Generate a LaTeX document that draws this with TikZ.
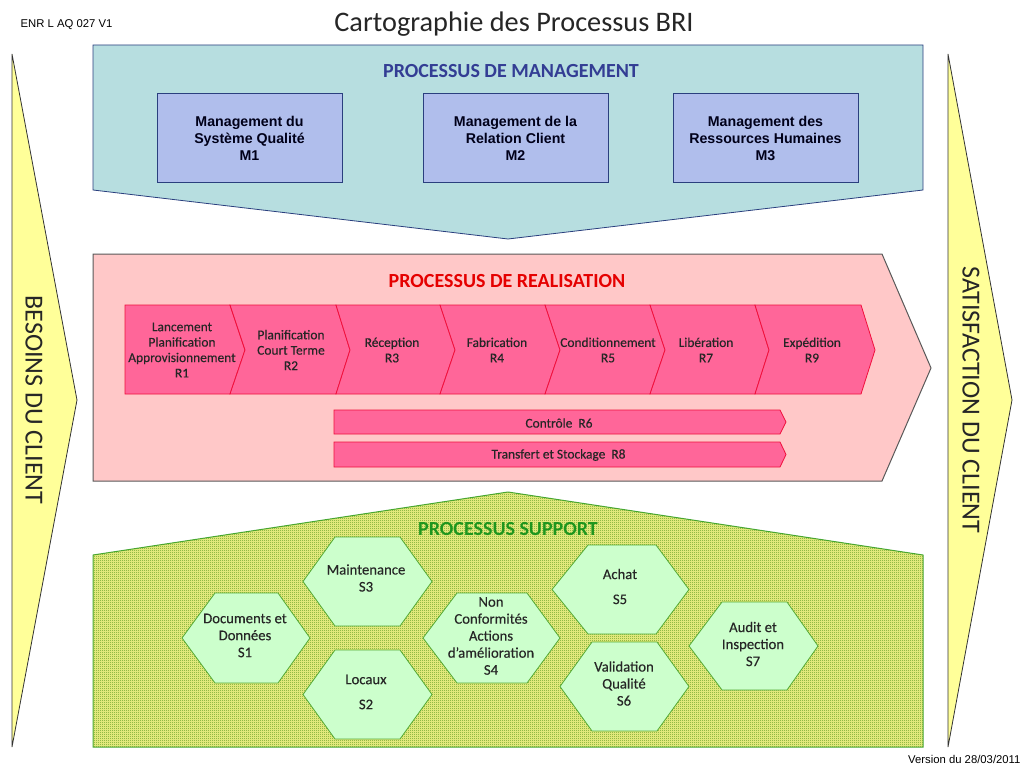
\documentclass[tikz,border=0pt]{standalone}
\usepackage{fontspec}
\setmainfont{Carlito}
\newfontfamily\arialfont{Liberation Sans}
\newfontfamily\semifont[FakeBold=0.25]{Carlito}
\usepackage{xcolor}
\usepackage{tikz}
\usetikzlibrary{patterns}
\definecolor{mgmtfill}{HTML}{B7DEE0}
\definecolor{mgmtline}{HTML}{2A3F7E}
\definecolor{mgmttext}{HTML}{333D94}
\definecolor{boxfill}{HTML}{B0BEEC}
\definecolor{realfill}{HTML}{FFC8C8}
\definecolor{chevfill}{HTML}{FF6699}
\definecolor{chevline}{HTML}{F0103C}
\definecolor{hexfill}{HTML}{CCFFCC}
\definecolor{hexline}{HTML}{55AA33}
\definecolor{suppfill}{HTML}{F4F488}
\definecolor{suppline}{HTML}{44A833}
\definecolor{supptext}{HTML}{1E961E}
\definecolor{suppdots}{HTML}{5F9C22}
\definecolor{sidefill}{HTML}{FFFF99}
\pgfdeclarepatternformonly{finecheck}{\pgfqpoint{0pt}{0pt}}{\pgfqpoint{2pt}{2pt}}{\pgfqpoint{2pt}{2pt}}{
  \pgfpathrectangle{\pgfqpoint{0pt}{0pt}}{\pgfqpoint{1pt}{1pt}}
  \pgfpathrectangle{\pgfqpoint{1pt}{1pt}}{\pgfqpoint{1pt}{1pt}}
  \pgfusepath{fill}
}
\tikzset{
  mgmtshape/.style={draw=mgmtline, fill=mgmtfill, line width=0.8pt},
  realshape/.style={draw=black!65, fill=realfill, line width=1pt},
  suppshape/.style={draw=suppline, line width=1pt, fill=suppfill, postaction={pattern=finecheck, pattern color=suppdots}},
  sideshape/.style={draw=black!80, fill=sidefill, line width=0.8pt},
  chevshape/.style={draw=chevline, fill=chevfill, line width=0.8pt},
  hexshape/.style={draw=hexline, fill=hexfill, line width=0.8pt},
  mbox/.style={draw=mgmtline, fill=boxfill, line width=0.8pt, minimum width=185pt, minimum height=89pt, inner sep=0pt, align=center, text=black!90!blue, font=\arialfont\bfseries\fontsize{14.2}{17}\selectfont},
  chevtext/.style={align=center, font=\semifont\fontsize{13.4}{15.4}\selectfont, text=black!85},
  hextext/.style={align=center, font=\semifont\fontsize{14.7}{17}\selectfont, text=black!85},
  sidetext/.style={rotate=-90, font=\fontsize{26}{28}\selectfont, text=black!85},
  heading/.style={font=\bfseries\fontsize{20}{22}\selectfont},
  smalltext/.style={font=\arialfont\fontsize{11.3}{13}\selectfont}
}
\begin{document}
\begin{tikzpicture}[x=1pt, y=-1pt]
        \useasboundingbox (0,0) rectangle (1024,768);

        % Side arrows
        \draw[sideshape] (12,54) -- (77,400) -- (12,747) -- cycle;
        \draw[sideshape] (948,54) -- (1012,400) -- (948,747) -- cycle;
        \node[sidetext] (besoins) at (34,400) {BESOINS DU CLIENT};
        \node[sidetext] (satisfaction) at (971,400) {SATISFACTION DU CLIENT};

        % Header
        \node[font=\fontsize{28.3}{32}\selectfont, text=black!85] (title) at (514,24) {Cartographie des Processus BRI};
        \node[smalltext] (ref) at (66.5,25) {ENR L AQ 027 V1};
        \node[smalltext, anchor=east] (version) at (1024,759) {Version du 28/03/2011};

        % Management
        \draw[mgmtshape] (93,45) -- (923,45) -- (923,190) -- (508,239) -- (93,190) -- cycle;
        \node[heading, text=mgmttext] (mgmt) at (511,71) {PROCESSUS DE MANAGEMENT};
        \node[mbox] (m1) at (249.5,138) {Management du\\Système Qualité\\M1};
        \node[mbox] (m2) at (515.5,138) {Management de la\\Relation Client\\M2};
        \node[mbox] (m3) at (765.5,138) {Management des\\Ressources Humaines\\M3};

        % Realisation
        \draw[realshape] (93,254) -- (882,254) -- (931,368) -- (882,481) -- (93,481) -- cycle;
        \node[heading, text=red!90!black] (real) at (507,281) {PROCESSUS DE REALISATION};

        %chevrons
        \draw[chevshape] (125,305) -- (230,305) -- (245,350) -- (230,394) -- (125,394) -- cycle;
        \draw[chevshape] (230,305) -- (336,305) -- (350,350) -- (336,394) -- (230,394) -- (245,350) -- cycle;
        \draw[chevshape] (336,305) -- (440,305) -- (455,350) -- (440,394) -- (336,394) -- (350,350) -- cycle;
        \draw[chevshape] (440,305) -- (545,305) -- (560,350) -- (545,394) -- (440,394) -- (455,350) -- cycle;
        \draw[chevshape] (545,305) -- (650,305) -- (665,350) -- (650,394) -- (545,394) -- (560,350) -- cycle;
        \draw[chevshape] (650,305) -- (755,305) -- (769,350) -- (755,394) -- (650,394) -- (665,350) -- cycle;
        \draw[chevshape] (755,305) -- (861,305) -- (875,350) -- (861,394) -- (755,394) -- (769,350) -- cycle;
        \node[chevtext] (r1) at (182,350) {Lancement\\Planification\\Approvisionnement\\R1};
        \node[chevtext] (r2) at (291,350) {Planification\\ Court Terme\\R2};
        \node[chevtext] (r3) at (392,350) {Réception\\R3};
        \node[chevtext] (r4) at (497,350) {Fabrication\\R4};
        \node[chevtext] (r5) at (608,350) {Conditionnement\\R5};
        \node[chevtext] (r7) at (706,350) {Libération\\R7};
        \node[chevtext] (r9) at (812,350) {Expédition\\R9};

        %bars
        \draw[chevshape] (334,410) -- (780,410) -- (786,422) -- (780,434) -- (334,434) -- cycle;
        \draw[chevshape] (334,442) -- (780,442) -- (786,454.5) -- (780,467) -- (334,467) -- cycle;
        \node[chevtext] (r6) at (559,423) {Contrôle~~R6};
        \node[chevtext] (r8) at (558.5,455) {Transfert et Stockage~~R8};

        % Support
        \draw[suppshape] (93,555) -- (508,492) -- (923,555) -- (923,747) -- (93,747) -- cycle;
        \node[heading, text=supptext] (supp) at (508,529) {PROCESSUS SUPPORT};

        %hexagons
        \draw[hexshape] (182,638) -- (215,593) -- (278,593) -- (310,638) -- (278,683) -- (215,683) -- cycle;
        \draw[hexshape] (303,581.5) -- (335,537) -- (400,537) -- (432,581.5) -- (400,626) -- (335,626) -- cycle;
        \draw[hexshape] (303,694.5) -- (335,650) -- (400,650) -- (432,694.5) -- (400,739) -- (335,739) -- cycle;
        \draw[hexshape] (423,638) -- (457,593) -- (527,593) -- (560,638) -- (527,683) -- (457,683) -- cycle;
        \draw[hexshape] (552,589.5) -- (588,545) -- (656,545) -- (689,589.5) -- (656,634) -- (588,634) -- cycle;
        \draw[hexshape] (560,686.5) -- (592,642) -- (657,642) -- (689,686.5) -- (657,731) -- (592,731) -- cycle;
        \draw[hexshape] (689,646) -- (722,602) -- (787,602) -- (818,646) -- (787,690) -- (722,690) -- cycle;
        \node[hextext] (s1) at (245,635.5) {Documents et\\Données\\S1};
        \node[hextext] (s3) at (366,578) {Maintenance\\S3};
        \node[hextext] (s2) at (366,692) {Locaux\\[8pt]S2};
        \node[hextext] (s4) at (491,636) {Non\\Conformités\\Actions\\d’amélioration\\S4};
        \node[hextext] (s5) at (620,586.5) {Achat\\[8pt]S5};
        \node[hextext] (s6) at (624,683.5) {Validation\\Qualité\\S6};
        \node[hextext] (s7) at (753,644) {Audit et\\Inspection\\S7};
\end{tikzpicture}
\end{document}
